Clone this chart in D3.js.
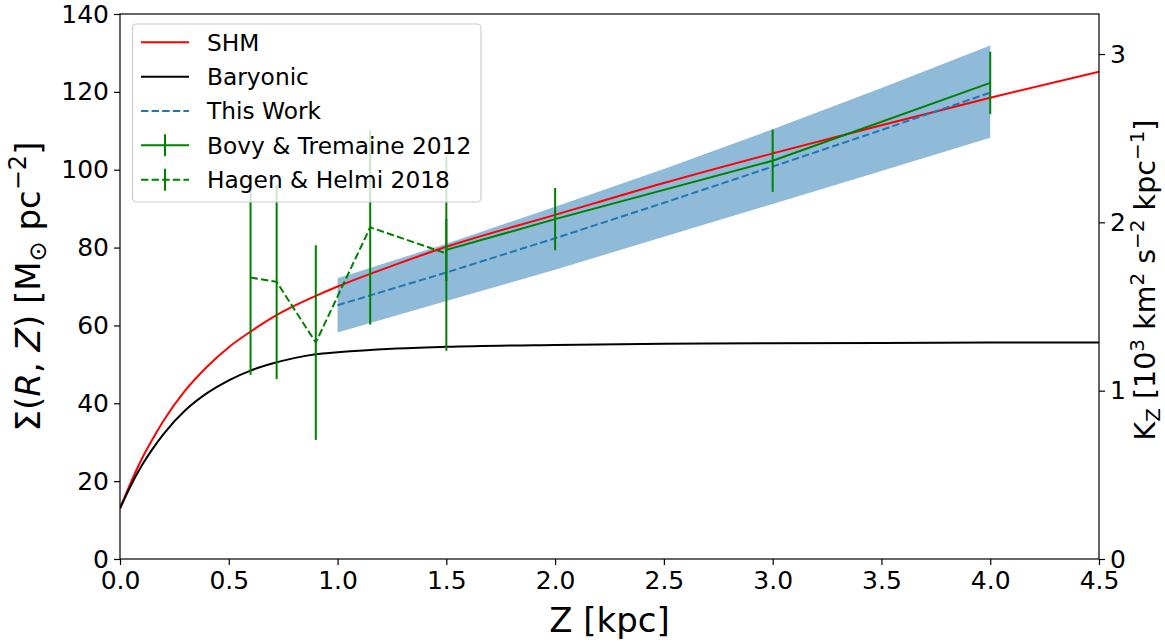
<!DOCTYPE html>
<html>
<head>
<meta charset="utf-8">
<script src="https://cdn.jsdelivr.net/npm/d3@7"></script>
<style>
  html, body { margin: 0; padding: 0; background: #fff; }
  svg { display: block; font-family: "DejaVu Sans", sans-serif; }
</style>
</head>
<body>
<svg id="chart" width="1165" height="643"></svg>
<script>
// ---------------- data ----------------
const zGrid    = [0, 0.05, 0.1, 0.15, 0.2, 0.3, 0.4, 0.5, 0.6, 0.7, 0.8, 0.9, 1.0, 1.25, 1.5, 2.0, 2.5, 3.0, 3.5, 4.0, 4.5];
const shmVals  = [13, 19.7, 25.7, 30.8, 35.5, 43.3, 49.4, 54.4, 58.4, 62.0, 65.0, 67.6, 70.0, 75.3, 80.2, 88.4, 96.6, 104.2, 111.4, 118.5, 125.2];
const baryVals = [13, 18.9, 24.0, 28.3, 32.1, 38.2, 42.6, 45.9, 48.4, 50.2, 51.6, 52.6, 53.1, 54.0, 54.5, 55.0, 55.3, 55.4, 55.5, 55.6, 55.6];

const workZ    = [1.0, 1.5, 2.0, 2.5, 3.0, 3.5, 4.0];
const workMid  = [65.2, 73.6, 82.4, 91.5, 100.8, 110.2, 119.8];
const workLow  = [58.2, 66.3, 74.3, 82.8, 91.2, 99.7, 108.2];
const workHigh = [72.1, 81.0, 90.5, 100.2, 110.4, 121.0, 131.9];

const bovyZ    = [1.5, 2.0, 3.0, 4.0];
const bovyVals = [79.4, 87.3, 102.3, 122.3];
const bovyErr  = [8, 8, 8, 8];

const hagenZ    = [0.6, 0.72, 0.9, 1.15, 1.5];
const hagenVals = [72.3, 71.2, 55.6, 85.2, 78.5];
const hagenErr  = [25, 25, 25, 25, 25];

const xTicks = [0, 0.5, 1.0, 1.5, 2.0, 2.5, 3.0, 3.5, 4.0, 4.5];
const yTicks = [0, 20, 40, 60, 80, 100, 120, 140];
const kTicks = [0, 1, 2, 3];
const kFactor = 43.24; // Sigma units per 10^3 km^2 s^-2 kpc^-1

const legendItems = [
  {label: "SHM", type: "line", color: "red", dash: null},
  {label: "Baryonic", type: "line", color: "black", dash: null},
  {label: "This Work", type: "line", color: "#1f77b4", dash: "7.4,3.2"},
  {label: "Bovy & Tremaine 2012", type: "err", color: "green", dash: null},
  {label: "Hagen & Helmi 2018", type: "err", color: "green", dash: "7.4,3.2"}
];

// ---------------- layout ----------------
const L = 120, R = 1099, T = 14, B = 559;
const svg = d3.select("#chart");
const x = d3.scaleLinear().domain([0, 4.5]).range([L, R]);
const y = d3.scaleLinear().domain([0, 140]).range([B, T]);
const yk = d3.scaleLinear().domain([0, 140 / kFactor]).range([B, T]);

svg.append("defs").append("clipPath").attr("id", "clip")
  .append("rect").attr("x", L).attr("y", T).attr("width", R - L).attr("height", B - T);

const plot = svg.append("g").attr("clip-path", "url(#clip)");

// band
const band = workZ.map((z, i) => ({z, lo: workLow[i], hi: workHigh[i]}));
plot.append("path").datum(band)
  .attr("d", d3.area().x(d => x(d.z)).y0(d => y(d.lo)).y1(d => y(d.hi)))
  .attr("fill", "#1f77b4").attr("fill-opacity", 0.5);

const line = d3.line().x(d => x(d[0])).y(d => y(d[1]));
const curve = d3.line().curve(d3.curveMonotoneX).x(d => x(d[0])).y(d => y(d[1]));

plot.append("path").datum(zGrid.map((z, i) => [z, shmVals[i]]))
  .attr("d", curve).attr("fill", "none").attr("stroke", "red").attr("stroke-width", 2);
plot.append("path").datum(zGrid.map((z, i) => [z, baryVals[i]]))
  .attr("d", curve).attr("fill", "none").attr("stroke", "black").attr("stroke-width", 2);
plot.append("path").datum(workZ.map((z, i) => [z, workMid[i]]))
  .attr("d", line).attr("fill", "none").attr("stroke", "#1f77b4").attr("stroke-width", 2)
  .attr("stroke-dasharray", "7.4,3.2");

// Bovy & Tremaine
plot.append("path").datum(bovyZ.map((z, i) => [z, bovyVals[i]]))
  .attr("d", line).attr("fill", "none").attr("stroke", "green").attr("stroke-width", 2);
plot.selectAll(".bovyErr").data(bovyZ).enter().append("line")
  .attr("x1", d => x(d)).attr("x2", d => x(d))
  .attr("y1", (d, i) => y(bovyVals[i] - bovyErr[i]))
  .attr("y2", (d, i) => y(bovyVals[i] + bovyErr[i]))
  .attr("stroke", "green").attr("stroke-width", 2);

// Hagen & Helmi
plot.append("path").datum(hagenZ.map((z, i) => [z, hagenVals[i]]))
  .attr("d", line).attr("fill", "none").attr("stroke", "green").attr("stroke-width", 2)
  .attr("stroke-dasharray", "7.4,3.2");
plot.selectAll(".hagenErr").data(hagenZ).enter().append("line")
  .attr("x1", d => x(d)).attr("x2", d => x(d))
  .attr("y1", (d, i) => y(hagenVals[i] - hagenErr[i]))
  .attr("y2", (d, i) => y(hagenVals[i] + hagenErr[i]))
  .attr("stroke", "green").attr("stroke-width", 2);

// ---------------- axes ----------------
const fs = 25;
const xAxis = svg.append("g").attr("transform", `translate(0,${B})`)
  .call(d3.axisBottom(x).tickValues(xTicks).tickFormat(d3.format(".1f")).tickSizeOuter(0).tickSize(6).tickPadding(4));
const yAxis = svg.append("g").attr("transform", `translate(${L},0)`)
  .call(d3.axisLeft(y).tickValues(yTicks).tickSizeOuter(0).tickSize(6).tickPadding(5));
const kAxis = svg.append("g").attr("transform", `translate(${R},0)`)
  .call(d3.axisRight(yk).tickValues(kTicks).tickFormat(d3.format("d")).tickSizeOuter(0).tickSize(6).tickPadding(5));

[xAxis, yAxis, kAxis].forEach(g => {
  g.selectAll("text").attr("font-size", fs).attr("font-family", "DejaVu Sans").attr("fill", "#000");
  g.selectAll("line").attr("stroke", "#000").attr("stroke-width", 1.2);
  g.select(".domain").remove();
});
xAxis.selectAll("text").attr("dy", "0.8em");

// frame
svg.append("rect").attr("x", L).attr("y", T).attr("width", R - L).attr("height", B - T)
  .attr("fill", "none").attr("stroke", "#000").attr("stroke-width", 1.2);

// axis labels
const xl = svg.append("text").attr("x", (L + R) / 2).attr("y", 632)
  .attr("text-anchor", "middle").attr("font-size", 34);
xl.append("tspan").text("Z [kpc]");

const yl = svg.append("text")
  .attr("transform", `translate(40,${(T + B) / 2}) rotate(-90)`)
  .attr("text-anchor", "middle").attr("font-size", 34);
yl.append("tspan").text("Σ(");
yl.append("tspan").attr("font-style", "italic").text("R");
yl.append("tspan").text(", ");
yl.append("tspan").attr("font-style", "italic").text("Z");
yl.append("tspan").text(") [M");
yl.append("tspan").attr("font-size", 24).attr("dy", 6).text("⊙");
yl.append("tspan").attr("dy", -6).text(" pc");
yl.append("tspan").attr("font-size", 24).attr("dy", -14).text("−2");
yl.append("tspan").attr("dy", 14).text("]");

const kl = svg.append("text")
  .attr("transform", `translate(1155,280) rotate(-90)`)
  .attr("text-anchor", "middle").attr("font-size", 28.5);
const subFs = 20, supDy = 11, subDy = 5;
kl.append("tspan").text("K");
kl.append("tspan").attr("font-size", subFs).attr("dy", subDy).text("Z");
kl.append("tspan").attr("dy", -subDy).text(" [10");
kl.append("tspan").attr("font-size", subFs).attr("dy", -supDy).text("3");
kl.append("tspan").attr("dy", supDy).text(" km");
kl.append("tspan").attr("font-size", subFs).attr("dy", -supDy).text("2");
kl.append("tspan").attr("dy", supDy).text(" s");
kl.append("tspan").attr("font-size", subFs).attr("dy", -supDy).text("−2");
kl.append("tspan").attr("dy", supDy).text(" kpc");
kl.append("tspan").attr("font-size", subFs).attr("dy", -supDy).text("−1");
kl.append("tspan").attr("dy", supDy).text("]");

// ---------------- legend ----------------
const lg = svg.append("g");
lg.append("rect").attr("x", 132.5).attr("y", 24).attr("width", 348.5).attr("height", 178)
  .attr("rx", 4).attr("fill", "#fff").attr("fill-opacity", 0.8)
  .attr("stroke", "#cccccc").attr("stroke-width", 1.2);
const rowY = d3.scaleLinear().domain([0, 4]).range([42.3, 179.7]);
legendItems.forEach((it, i) => {
  const cy = rowY(i);
  lg.append("line").attr("x1", 141).attr("x2", 189).attr("y1", cy).attr("y2", cy)
    .attr("stroke", it.color).attr("stroke-width", 2)
    .attr("stroke-dasharray", it.dash);
  if (it.type === "err") {
    lg.append("line").attr("x1", 165).attr("x2", 165).attr("y1", cy - 11).attr("y2", cy + 11)
      .attr("stroke", it.color).attr("stroke-width", 2);
  }
  lg.append("text").attr("x", 207).attr("y", cy).attr("dy", "0.36em")
    .attr("font-size", 23.3).attr("fill", "#000").text(it.label);
});
</script>
</body>
</html>
